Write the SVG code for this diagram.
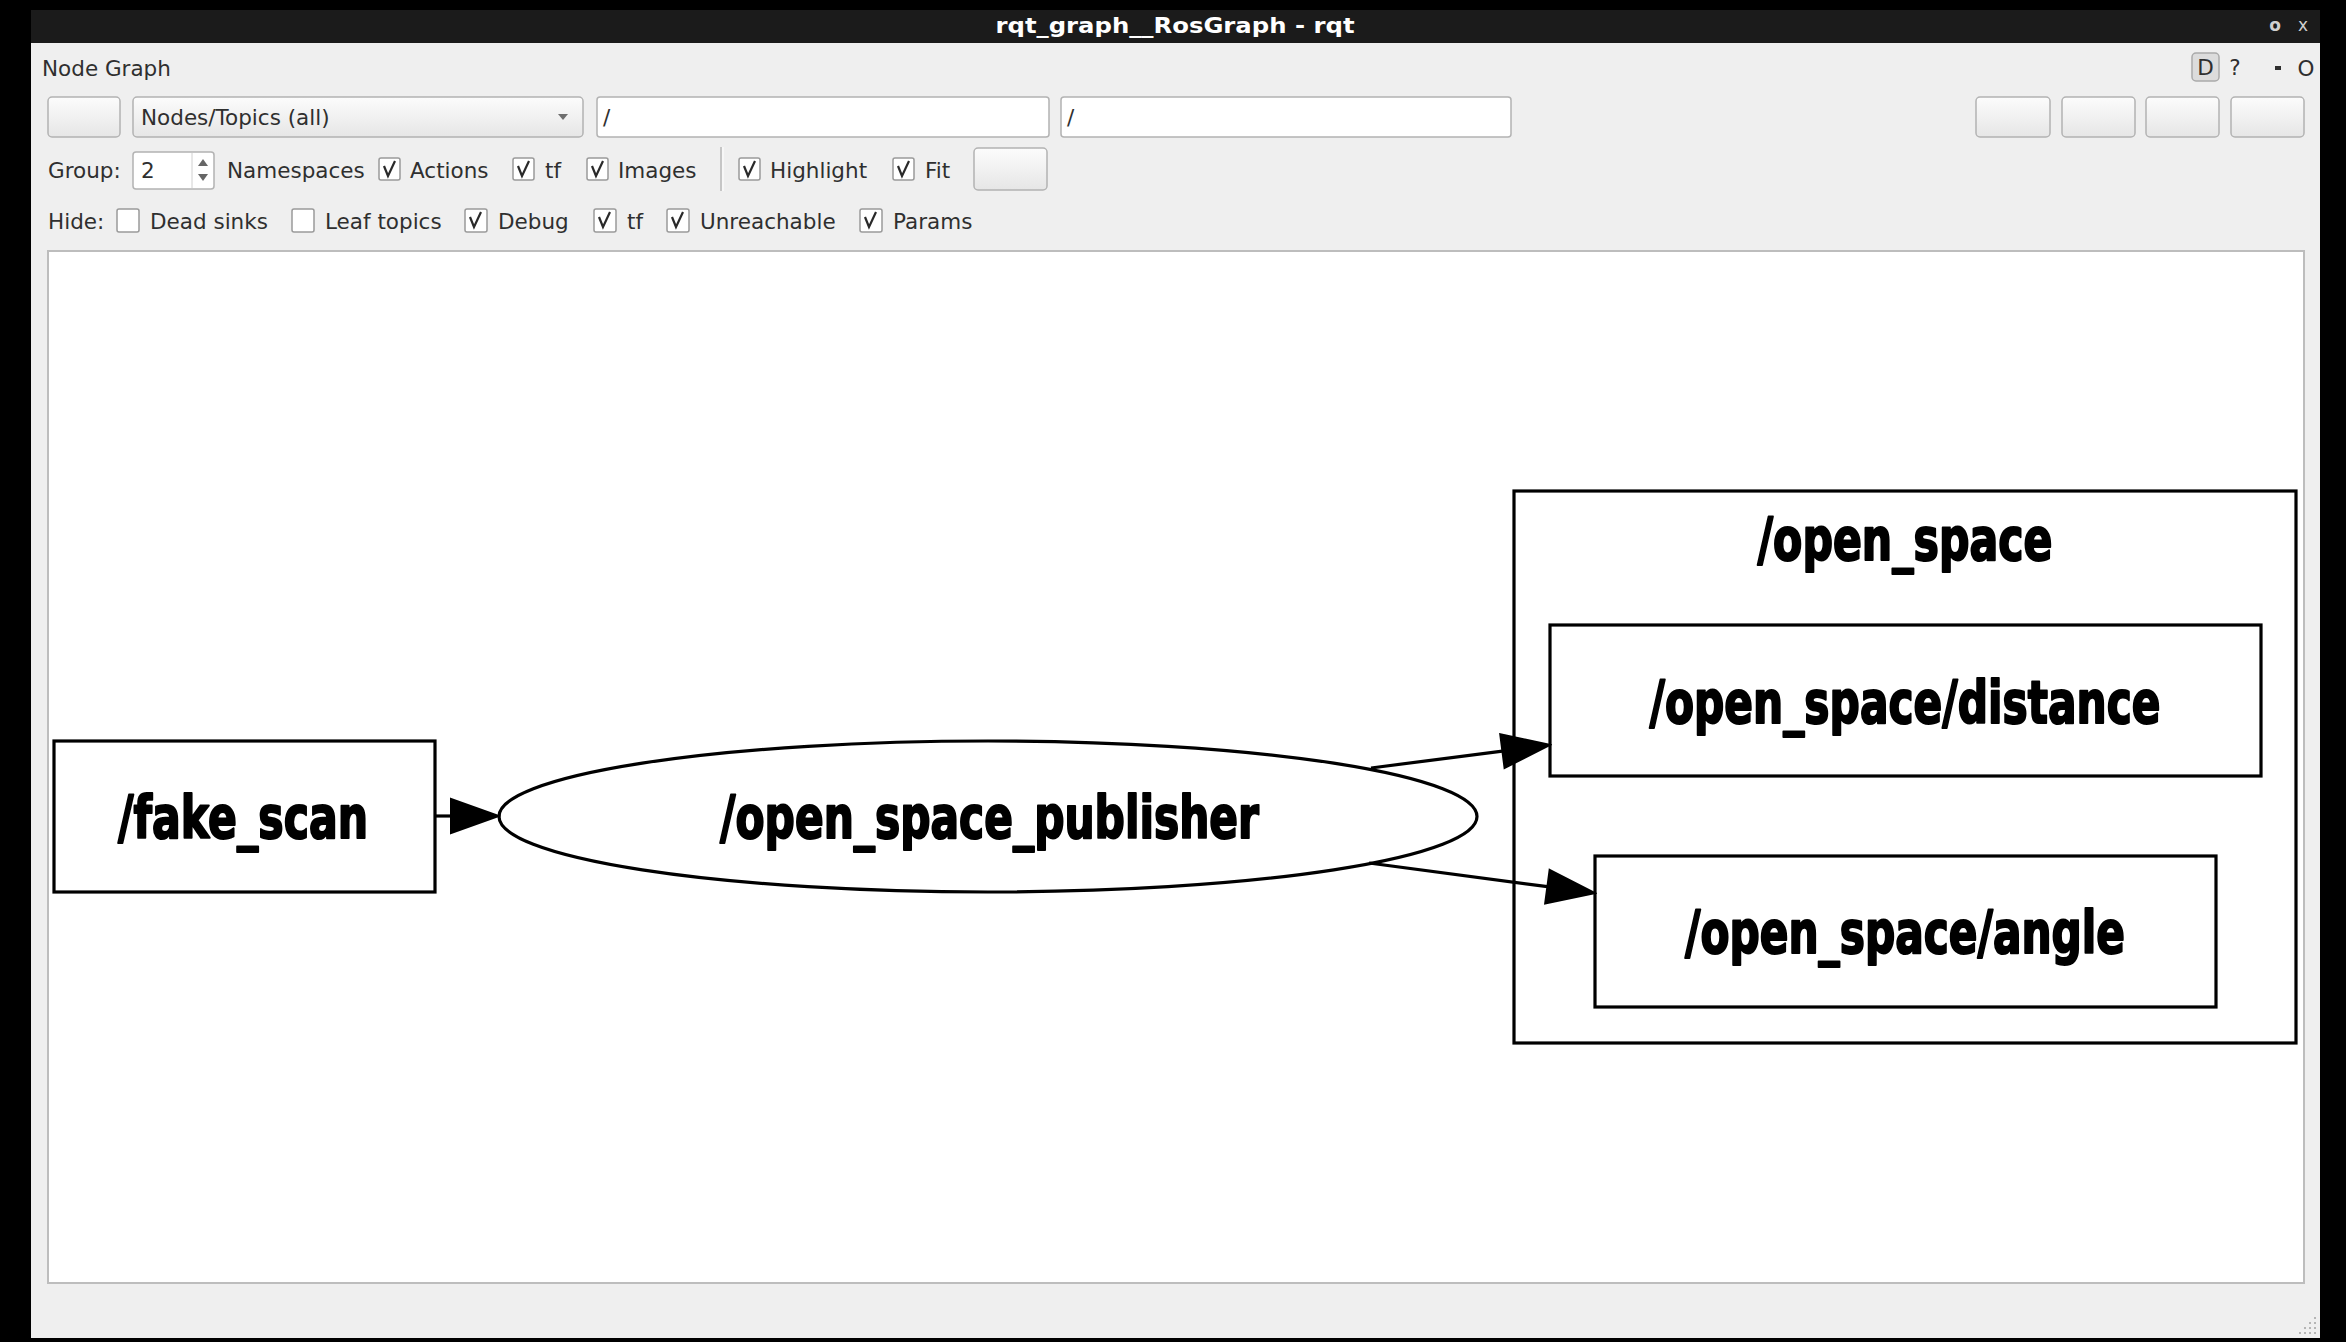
<svg xmlns="http://www.w3.org/2000/svg" width="2346" height="1342" viewBox="0 0 2346 1342">
<style>
.ui{font-family:"DejaVu Sans","Liberation Sans",sans-serif;font-size:21.5px;fill:#2f2f2f}
.btn{fill:url(#btnGrad);stroke:#b3b3b3;stroke-width:1.5}
.field{fill:#ffffff;stroke:#b3b3b3;stroke-width:1.5}
.cb{fill:#ffffff;stroke:#9a9a9a;stroke-width:1.5}
.chk{fill:none;stroke:#2a2a2a;stroke-width:2.2;stroke-linejoin:miter}
.gtxt{font-family:"DejaVu Sans","Liberation Sans",sans-serif;font-weight:bold;font-size:58px;fill:#000;stroke:#000;stroke-width:2.2;stroke-linejoin:round;text-anchor:middle}
.shape{fill:none;stroke:#000;stroke-width:3.2}
.edge{fill:none;stroke:#000;stroke-width:3.2}
.grip{fill:#b5b5b5}
</style>
<defs>
<linearGradient id="btnGrad" x1="0" y1="0" x2="0" y2="1">
<stop offset="0" stop-color="#fcfcfc"/>
<stop offset="1" stop-color="#e6e6e6"/>
</linearGradient>
<marker id="arrow" markerUnits="userSpaceOnUse" viewBox="-2 -19 52 38" refX="0" refY="0" markerWidth="52" markerHeight="38" orient="auto">
<path d="M0,-17 L48,0 L0,17 Z" fill="#000" stroke="#000" stroke-width="2" stroke-linejoin="miter"/>
</marker>
</defs>

<!-- screen background -->
<rect x="0" y="0" width="2346" height="1342" fill="#000"/>

<!-- window -->
<g id="window">
<rect x="31" y="43" width="2289" height="1295" fill="#efefef"/>
<rect x="31" y="10" width="2289" height="33" fill="#1b1b1b"/>
<text x="1175" y="33" text-anchor="middle" font-family="DejaVu Sans, Liberation Sans, sans-serif" font-weight="bold" font-size="22" fill="#ffffff" textLength="359" lengthAdjust="spacingAndGlyphs">rqt_graph__RosGraph - rqt</text>
<text x="2275" y="31" text-anchor="middle" font-family="DejaVu Sans, sans-serif" font-size="17" font-weight="bold" fill="#cfcfcf">o</text>
<text x="2303" y="31" text-anchor="middle" font-family="DejaVu Sans, sans-serif" font-size="17" fill="#cfcfcf">x</text>
</g>

<!-- header -->
<g id="header">
<text class="ui" x="42" y="76">Node Graph</text>
<rect x="2192" y="53" width="27" height="28" rx="4" fill="#dcdcdc" stroke="#aaaaaa" stroke-width="1.5"/>
<text class="ui" x="2205.5" y="75" text-anchor="middle">D</text>
<text class="ui" x="2235" y="75" text-anchor="middle">?</text>
<rect x="2275" y="66" width="6" height="4" fill="#2f2f2f"/>
<text class="ui" x="2306" y="76" text-anchor="middle">O</text>
</g>

<!-- toolbar row 1 -->
<g id="row1">
<rect class="btn" x="48" y="97" width="72" height="40" rx="4"/>
<rect class="btn" x="133" y="97" width="450" height="40" rx="4"/>
<text class="ui" x="141" y="125">Nodes/Topics (all)</text>
<polygon points="558,114 568,114 563,120" fill="#6e6e6e"/>
<rect class="field" x="597" y="97" width="452" height="40" rx="3"/>
<text class="ui" x="603" y="125">/</text>
<rect class="field" x="1061" y="97" width="450" height="40" rx="3"/>
<text class="ui" x="1067" y="125">/</text>
<rect class="btn" x="1976" y="97" width="74" height="40" rx="4"/>
<rect class="btn" x="2062" y="97" width="73" height="40" rx="4"/>
<rect class="btn" x="2146" y="97" width="73" height="40" rx="4"/>
<rect class="btn" x="2231" y="97" width="73" height="40" rx="4"/>
</g>

<!-- toolbar row 2 -->
<g id="row2">
<text class="ui" x="48" y="178">Group:</text>
<rect class="field" x="133" y="152" width="81" height="37" rx="3"/>
<line x1="192" y1="153" x2="192" y2="188" stroke="#d0d0d0" stroke-width="1"/>
<text class="ui" x="141" y="178">2</text>
<polygon points="198,166 208,166 203,159" fill="#666"/>
<polygon points="198,174 208,174 203,181" fill="#666"/>
<text class="ui" x="227" y="178">Namespaces</text>
<rect class="cb" x="379" y="158" width="21" height="22" rx="2"/>
<path class="chk" d="M384,166 L388,176 L395,161"/>
<text class="ui" x="410" y="178">Actions</text>
<rect class="cb" x="513" y="158" width="21" height="22" rx="2"/>
<path class="chk" d="M518,166 L522,176 L529,161"/>
<text class="ui" x="545" y="178">tf</text>
<rect class="cb" x="587" y="158" width="21" height="22" rx="2"/>
<path class="chk" d="M592,166 L596,176 L603,161"/>
<text class="ui" x="618" y="178">Images</text>
<line x1="721" y1="147" x2="721" y2="191" stroke="#b8b8b8" stroke-width="1.5"/>
<line x1="723" y1="147" x2="723" y2="191" stroke="#ffffff" stroke-width="1"/>
<rect class="cb" x="739" y="158" width="21" height="22" rx="2"/>
<path class="chk" d="M744,166 L748,176 L755,161"/>
<text class="ui" x="770" y="178">Highlight</text>
<rect class="cb" x="893" y="158" width="21" height="22" rx="2"/>
<path class="chk" d="M898,166 L902,176 L909,161"/>
<text class="ui" x="925" y="178">Fit</text>
<rect class="btn" x="974" y="148" width="73" height="42" rx="4"/>
</g>

<!-- toolbar row 3 -->
<g id="row3">
<text class="ui" x="48" y="229">Hide:</text>
<rect class="cb" x="117" y="209" width="22" height="23" rx="2"/>
<text class="ui" x="150" y="229">Dead sinks</text>
<rect class="cb" x="292" y="209" width="22" height="23" rx="2"/>
<text class="ui" x="325" y="229">Leaf topics</text>
<rect class="cb" x="465" y="209" width="22" height="23" rx="2"/>
<path class="chk" d="M470,217 L474,227 L481,212"/>
<text class="ui" x="498" y="229">Debug</text>
<rect class="cb" x="594" y="209" width="22" height="23" rx="2"/>
<path class="chk" d="M599,217 L603,227 L610,212"/>
<text class="ui" x="627" y="229">tf</text>
<rect class="cb" x="667" y="209" width="22" height="23" rx="2"/>
<path class="chk" d="M672,217 L676,227 L683,212"/>
<text class="ui" x="700" y="229">Unreachable</text>
<rect class="cb" x="860" y="209" width="22" height="23" rx="2"/>
<path class="chk" d="M865,217 L869,227 L876,212"/>
<text class="ui" x="893" y="229">Params</text>
</g>

<!-- canvas -->
<g id="canvas">
<rect x="48" y="251" width="2256" height="1032" fill="#ffffff" stroke="#bdbdbd" stroke-width="2"/>
</g>

<!-- graph nodes -->
<g id="cluster_open_space">
<rect class="shape" x="1514" y="491" width="782" height="552"/>
<text class="gtxt" x="1905" y="560" textLength="295" lengthAdjust="spacingAndGlyphs">/open_space</text>
</g>
<g id="node_fake_scan">
<rect class="shape" x="54" y="741" width="381" height="151"/>
<text class="gtxt" x="243" y="838" textLength="250" lengthAdjust="spacingAndGlyphs">/fake_scan</text>
</g>
<g id="node_open_space_publisher">
<ellipse class="shape" cx="988" cy="816.5" rx="489" ry="75.5"/>
<text class="gtxt" x="989.5" y="838" textLength="539" lengthAdjust="spacingAndGlyphs">/open_space_publisher</text>
</g>
<g id="node_distance">
<rect class="shape" x="1550" y="625" width="711" height="151"/>
<text class="gtxt" x="1905" y="723" textLength="511" lengthAdjust="spacingAndGlyphs">/open_space/distance</text>
</g>
<g id="node_angle">
<rect class="shape" x="1595" y="856" width="621" height="151"/>
<text class="gtxt" x="1905" y="953" textLength="440" lengthAdjust="spacingAndGlyphs">/open_space/angle</text>
</g>

<!-- connectors -->
<g id="connectors">
<path class="edge" d="M435,816 L451,816" marker-end="url(#arrow)"/>
<path class="edge" d="M1371,768 L1502.4,751.1" marker-end="url(#arrow)"/>
<path class="edge" d="M1369,863 L1547.4,886.7" marker-end="url(#arrow)"/>
</g>

<!-- size grip -->
<g id="sizegrip">
<rect class="grip" x="2314" y="1317" width="2" height="2"/>
<rect class="grip" x="2309" y="1322" width="2" height="2"/>
<rect class="grip" x="2314" y="1322" width="2" height="2"/>
<rect class="grip" x="2304" y="1327" width="2" height="2"/>
<rect class="grip" x="2309" y="1327" width="2" height="2"/>
<rect class="grip" x="2314" y="1327" width="2" height="2"/>
<rect class="grip" x="2299" y="1332" width="2" height="2"/>
<rect class="grip" x="2304" y="1332" width="2" height="2"/>
<rect class="grip" x="2309" y="1332" width="2" height="2"/>
<rect class="grip" x="2314" y="1332" width="2" height="2"/>
</g>
</svg>
